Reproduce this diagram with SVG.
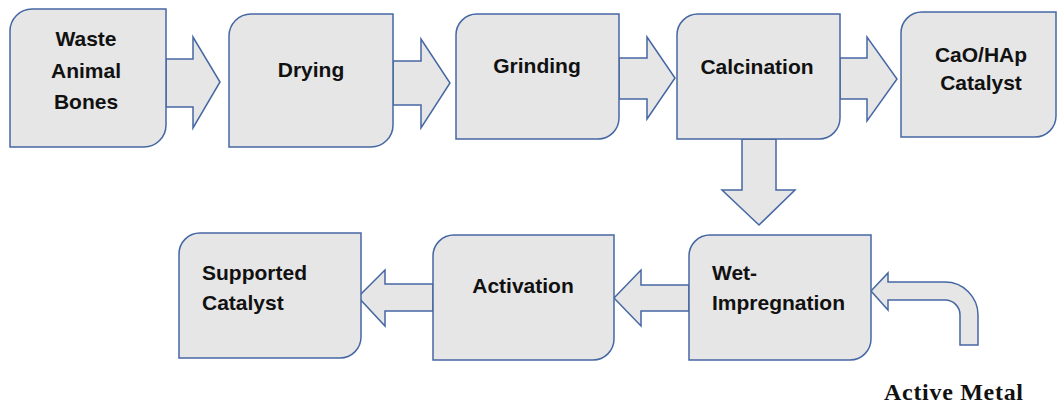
<svg xmlns="http://www.w3.org/2000/svg" width="1057" height="406" viewBox="0 0 1057 406">
<style>
.box{fill:#e6e6e6;stroke:#4567a3;stroke-width:1.5}
.arr{fill:#e6e6e6;stroke:#4567a3;stroke-width:1.5;stroke-linejoin:miter}
.t{font-family:"Liberation Sans",Arial,sans-serif;font-weight:bold;font-size:21px;fill:#111}
.c{text-anchor:middle}
.am{font-family:"Liberation Serif","Times New Roman",serif;font-weight:bold;font-size:24px;fill:#111}
</style>
<rect width="1057" height="406" fill="#ffffff"/>
<g id="connectors">
<polygon class="arr" points="166,59 193,59 193,37 220,82 193,128 193,107 166,107"/>
<polygon class="arr" points="393,61 421,61 421,39 450,83 421,128 421,105 393,105"/>
<polygon class="arr" points="619,58 647,58 647,37 675,78 647,119 647,99 619,99"/>
<polygon class="arr" points="840,58 867,58 867,37 897,79 867,121 867,99 840,99"/>
<polygon class="arr" points="742,139 776,139 776,190 795,190 759,225 722,190 742,190"/>
<polygon class="arr" points="689,285 641,285 641,270 614,298 641,326 641,311 689,311"/>
<polygon class="arr" points="433,284 385,284 385,270 358,297 385,326 385,311 433,311"/>
<path class="arr" d="M871,291 L888,273 L888,282 H945 A33,33 0 0 1 978,315 V345 H960 V315 A15,15 0 0 0 945,300 H888 V310 Z"/>
</g>
<g id="n-waste">
<path class="box" d="M32,9 H166 V125 A22,22 0 0 1 144,147 H10 V31 A22,22 0 0 1 32,9 Z"/>
<text class="t c" x="86" y="46">Waste</text>
<text class="t c" x="86" y="78">Animal</text>
<text class="t c" x="86" y="109">Bones</text>
</g>
<g id="n-drying">
<path class="box" d="M251,14 H393 V125 A22,22 0 0 1 371,147 H229 V36 A22,22 0 0 1 251,14 Z"/>
<text class="t c" x="311" y="77">Drying</text>
</g>
<g id="n-grinding">
<path class="box" d="M477,14 H619 V118 A21,21 0 0 1 598,139 H456 V35 A21,21 0 0 1 477,14 Z"/>
<text class="t c" x="537" y="73">Grinding</text>
</g>
<g id="n-calcination">
<path class="box" d="M698,14 H840 V118 A21,21 0 0 1 819,139 H677 V35 A21,21 0 0 1 698,14 Z"/>
<text class="t c" x="757" y="74">Calcination</text>
</g>
<g id="n-cao">
<path class="box" d="M922,12 H1056 V116 A21,21 0 0 1 1035,137 H901 V33 A21,21 0 0 1 922,12 Z"/>
<text class="t c" x="981" y="62">CaO/HAp</text>
<text class="t c" x="981" y="90">Catalyst</text>
</g>
<g id="n-wet">
<path class="box" d="M710,235 H871 V339 A21,21 0 0 1 850,360 H689 V256 A21,21 0 0 1 710,235 Z"/>
<text class="t" x="712" y="280">Wet-</text>
<text class="t" x="712" y="310">Impregnation</text>
</g>
<g id="n-activation">
<path class="box" d="M454,235 H614 V339 A21,21 0 0 1 593,360 H433 V256 A21,21 0 0 1 454,235 Z"/>
<text class="t c" x="523" y="293">Activation</text>
</g>
<g id="n-supported">
<path class="box" d="M200,233 H361 V337 A21,21 0 0 1 340,358 H179 V254 A21,21 0 0 1 200,233 Z"/>
<text class="t" x="202" y="280">Supported</text>
<text class="t" x="202" y="310">Catalyst</text>
</g>
<g id="n-active-metal">
<text class="am" x="884" y="400" textLength="139">Active Metal</text>
</g>
</svg>
